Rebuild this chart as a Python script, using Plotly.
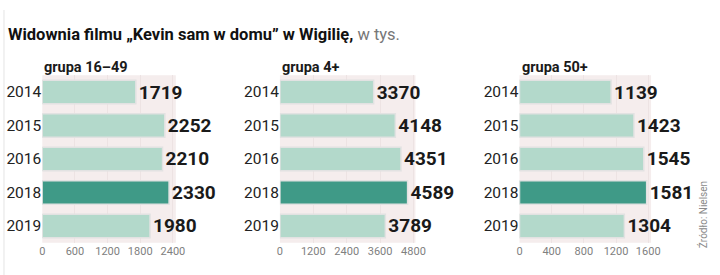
import plotly.graph_objects as go

years = ["2014", "2015", "2016", "2018", "2019"]
grp_16_49 = [1719, 2252, 2210, 2330, 1980]
grp_4plus = [3370, 4148, 4351, 4589, 3789]
grp_50plus = [1139, 1423, 1545, 1581, 1304]
panel_titles = ["grupa 16–49", "grupa 4+", "grupa 50+"]
tick_sets = [[0, 600, 1200, 1800, 2400], [0, 1200, 2400, 3600, 4800], [0, 400, 800, 1200, 1600]]
highlight_year = "2018"

W, H = 720, 275
LIGHT = "#b3d9cb"
DARK = "#3f9a87"

series = [grp_16_49, grp_4plus, grp_50plus]
px_domains = [(40, 176), (282, 420), (526, 660)]
ranges = [2454, 4870, 1636]
ydom = [1 - 242.75 / H, 1 - 75.25 / H]

fig = go.Figure()
for i, vals in enumerate(series):
    xa = "x" if i == 0 else f"x{i+1}"
    ya = "y" if i == 0 else f"y{i+1}"
    colors = [DARK if y == highlight_year else LIGHT for y in years]
    fig.add_trace(go.Bar(
        x=vals, y=years, orientation="h", xaxis=xa, yaxis=ya,
        marker=dict(color=colors, line=dict(color="#e2e2e2", width=1.5)),
        width=0.7,
        text=[str(v) for v in vals], textposition="outside",
        textfont=dict(family="Roboto", size=19, color="#1a1a1a", weight="bold"),
        constraintext="none", cliponaxis=False, showlegend=False, hoverinfo="skip",
    ))
    x0, x1 = px_domains[i]
    xkey = "xaxis" if i == 0 else f"xaxis{i+1}"
    ykey = "yaxis" if i == 0 else f"yaxis{i+1}"
    fig.layout[xkey] = dict(
        domain=[x0 / W, x1 / W], range=[0, ranges[i]], tickvals=tick_sets[i],
        showgrid=True, gridcolor="#ede3e3", gridwidth=1, zeroline=False,
        showline=False, ticks="", anchor=ya,
        tickfont=dict(family="Roboto, Open Sans, sans-serif", size=11, color="#808080"),
        fixedrange=True,
    )
    fig.layout[ykey] = dict(
        domain=ydom, categoryorder="array", categoryarray=years, autorange="reversed",
        showgrid=False, zeroline=False, showline=False, ticks="", anchor=xa,
        tickfont=dict(family="Roboto, Open Sans, sans-serif", size=15.5, color="#222222"),
        fixedrange=True,
    )
    fig.add_annotation(
        x=x0 / W, y=1 - 67 / H, xref="paper", yref="paper", xanchor="left", yanchor="middle",
        text=f"<b>{panel_titles[i]}</b>", showarrow=False,
        font=dict(family="Roboto, Open Sans, sans-serif", size=14.5, color="#1a1a1a"),
    )

fig.add_annotation(
    x=3 / W, y=1 - 35 / H, xref="paper", yref="paper", xanchor="left", yanchor="middle",
    text="<b>Widownia filmu „Kevin sam w domu” w Wigilię,</b><span style='color:#777'> w tys.</span>",
    showarrow=False, font=dict(family="Roboto, Open Sans, sans-serif", size=16.5, color="#111111"),
)
fig.add_annotation(
    x=713 / W, y=1 - 215 / H, xref="paper", yref="paper", xanchor="center", yanchor="middle",
    text="Źródło: Nielsen", textangle=-90, showarrow=False,
    font=dict(family="Roboto, Open Sans, sans-serif", size=10, color="#8a8a8a"),
)
fig.add_shape(type="line", xref="paper", yref="paper", x0=1 / W, x1=1 / W, y0=0, y1=1 - 10 / H,
              line=dict(color="#e4e4e4", width=1))

fig.update_layout(
    width=W, height=H, margin=dict(l=0, r=0, t=0, b=0),
    paper_bgcolor="white", plot_bgcolor="#f5eded", bargap=0.3,
)
fig.write_html("out.html")
